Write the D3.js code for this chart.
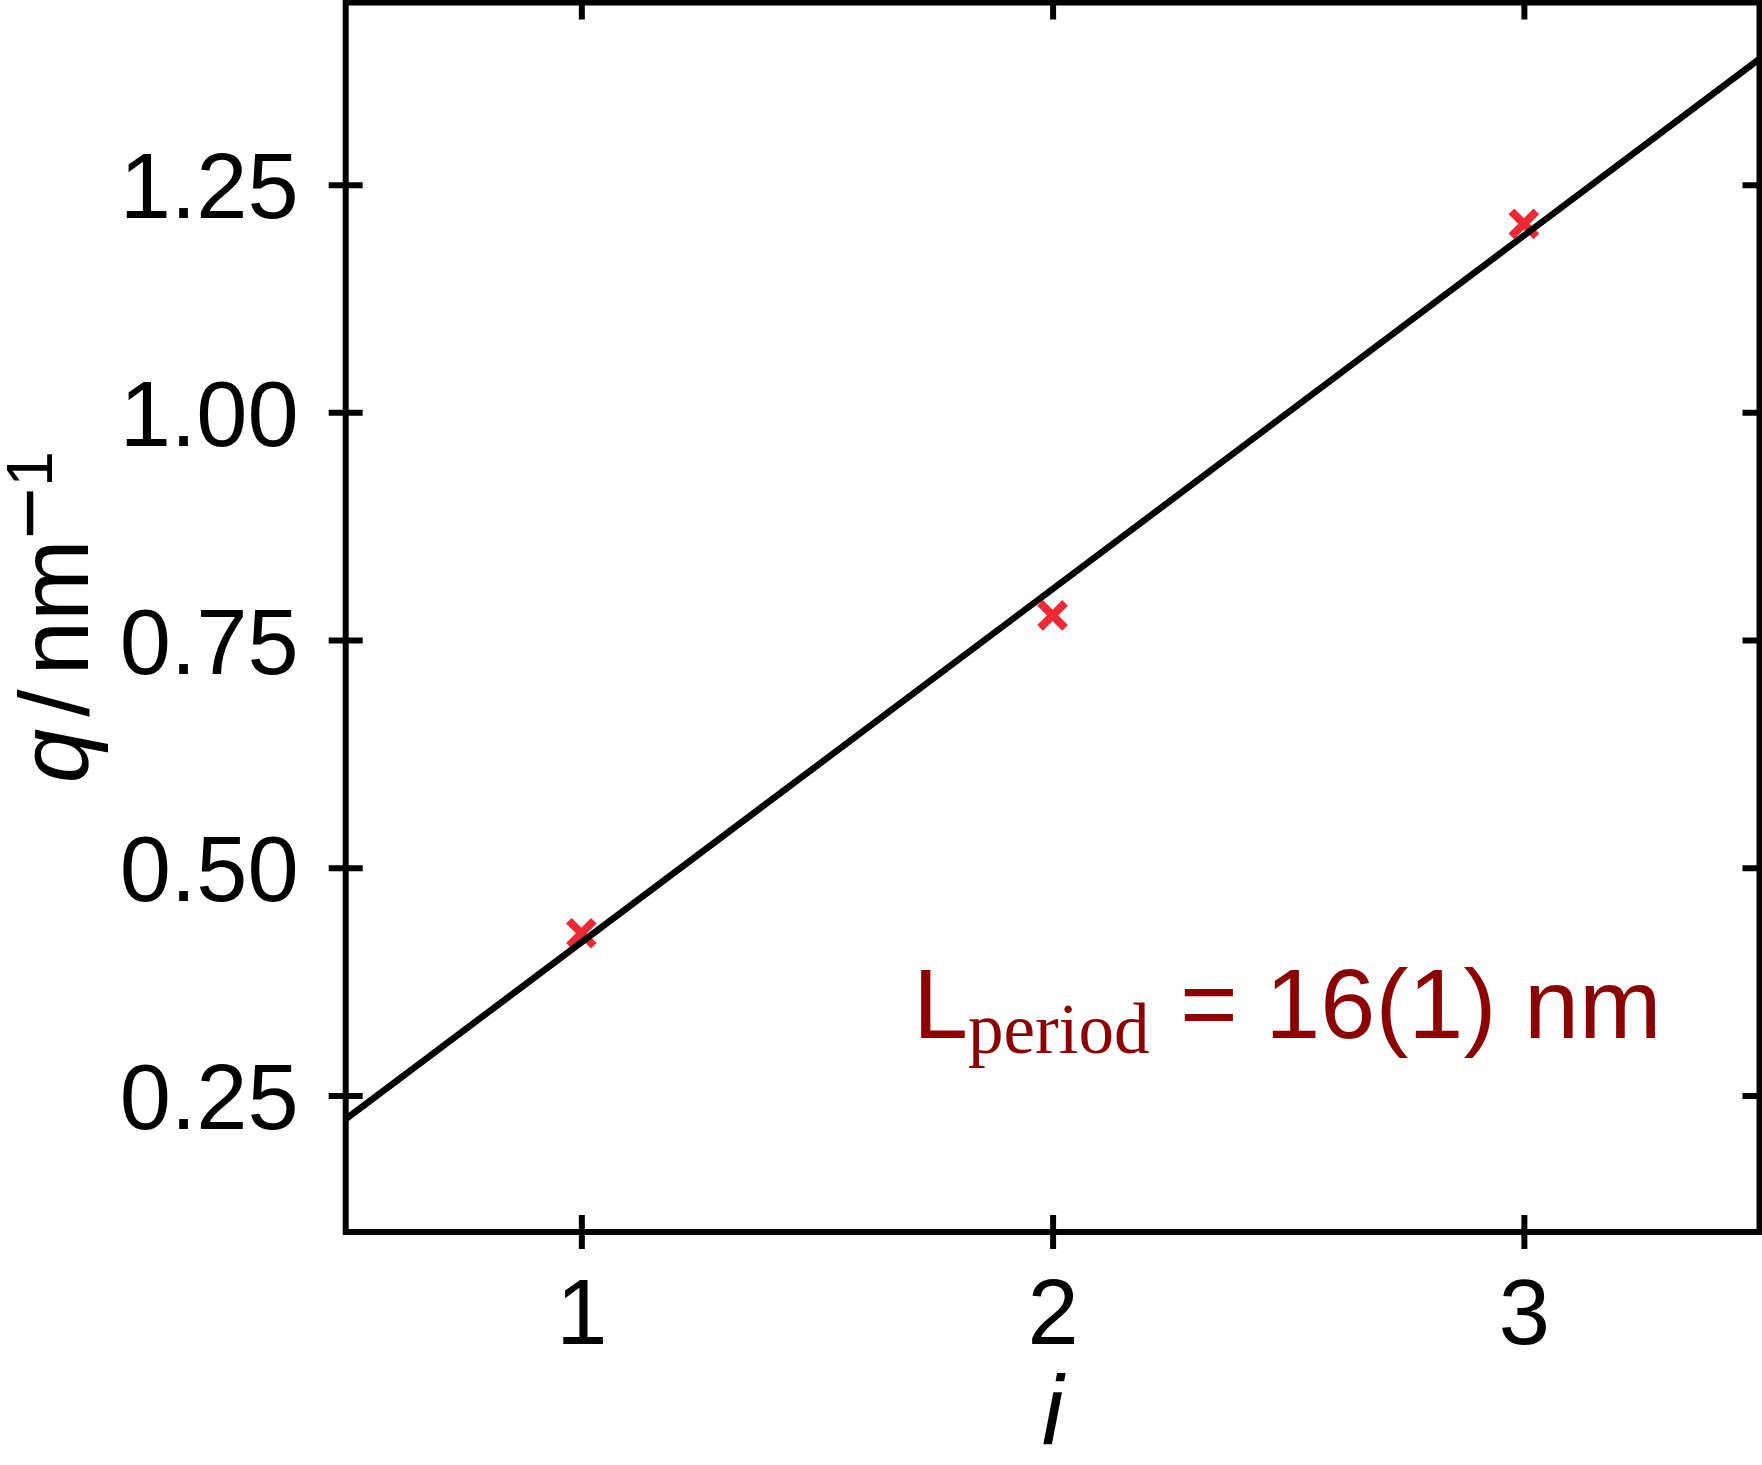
<!DOCTYPE html>
<html>
<head>
<meta charset="utf-8">
<script src="https://cdn.jsdelivr.net/npm/d3@7"></script>
<style>
  html, body { margin: 0; padding: 0; background: #fff; }
  svg { display: block; }
  text { white-space: pre; }
</style>
</head>
<body>
<div id="chart"></div>
<script>
// ---- data ----
const orderI = [1, 2, 3];
const qValues = [0.428, 0.777, 1.207];
const fitI = [0.5, 3.5];
const fitQ = [0.224, 1.388];
const xTicks = [1, 2, 3];
const yTicks = [0.25, 0.50, 0.75, 1.00, 1.25];
const yTickLabels = ["0.25", "0.50", "0.75", "1.00", "1.25"];
const xDomain = [0.5, 3.5];
const yDomain = [0.10, 1.45];

// ---- layout ----
const W = 1762, H = 1465;
const L = 345.7, R = 1759.5, T = 2.5, B = 1232;
const tickLen = 17;
const sans = "'Liberation Sans', Arial, Helvetica, sans-serif";
const serif = "'Liberation Serif', 'Times New Roman', serif";

const svg = d3.select("#chart").append("svg")
  .attr("width", W).attr("height", H)
  .attr("viewBox", `0 0 ${W} ${H}`);
svg.append("rect").attr("width", W).attr("height", H).attr("fill", "#fff");

const x = d3.scaleLinear().domain(xDomain).range([L, R]);
const y = d3.scaleLinear().domain(yDomain).range([B, T]);

svg.append("defs").append("clipPath").attr("id", "plotclip")
  .append("rect").attr("x", L).attr("y", T).attr("width", R - L).attr("height", B - T);

// markers (x shapes)
const mk = 12.5;
const markers = svg.append("g");
orderI.forEach((d, i) => {
  const cx = x(d), cy = y(qValues[i]);
  markers.append("path")
    .attr("d", `M${cx - mk},${cy - mk}L${cx + mk},${cy + mk}M${cx - mk},${cy + mk}L${cx + mk},${cy - mk}`)
    .attr("stroke", "#ec2a35").attr("stroke-width", 8).attr("fill", "none");
});

// fit line
const line = d3.line().x((d, i) => x(fitI[i])).y((d, i) => y(fitQ[i]));
svg.append("path")
  .datum(fitI)
  .attr("clip-path", "url(#plotclip)")
  .attr("d", line)
  .attr("stroke", "#000").attr("stroke-width", 6.5).attr("fill", "none");

// axes
function styleAxis(g) {
  g.select(".domain").remove();
  g.selectAll(".tick line").attr("stroke", "#000").attr("stroke-width", 6);
  g.selectAll(".tick text").attr("fill", "#000")
    .attr("font-family", sans).attr("font-size", 92);
}

const yAxis = d3.axisLeft(y).tickValues(yTicks)
  .tickFormat((d, i) => yTickLabels[i]).tickSize(tickLen).tickPadding(30);
const gy = svg.append("g").attr("transform", `translate(${L},0)`).call(yAxis);
styleAxis(gy);
gy.selectAll(".tick line").attr("x1", tickLen);
gy.selectAll(".tick text").attr("dy", "0.36em");

const yAxisR = d3.axisRight(y).tickValues(yTicks).tickFormat("").tickSize(tickLen);
const gyr = svg.append("g").attr("transform", `translate(${R},0)`).call(yAxisR);
styleAxis(gyr);
gyr.selectAll(".tick line").attr("x1", -tickLen);

const xAxis = d3.axisBottom(x).tickValues(xTicks).tickFormat(d3.format("d"))
  .tickSize(tickLen).tickPadding(30);
const gx = svg.append("g").attr("transform", `translate(0,${B})`).call(xAxis);
styleAxis(gx);
gx.selectAll(".tick line").attr("y1", -tickLen);

const xAxisT = d3.axisTop(x).tickValues(xTicks).tickFormat("").tickSize(tickLen);
const gxt = svg.append("g").attr("transform", `translate(0,${T})`).call(xAxisT);
styleAxis(gxt);
gxt.selectAll(".tick line").attr("y1", tickLen);

// frame
svg.append("rect")
  .attr("x", L).attr("y", T).attr("width", R - L).attr("height", B - T)
  .attr("fill", "none").attr("stroke", "#000").attr("stroke-width", 6);

// x label
svg.append("text")
  .attr("x", (L + R) / 2).attr("y", 1444)
  .attr("text-anchor", "middle")
  .attr("font-family", sans).attr("font-size", 98).attr("font-style", "italic")
  .text("i");

// y label
const yl = svg.append("text")
  .attr("transform", `translate(88,${(T + B) / 2}) rotate(-90)`)
  .attr("text-anchor", "middle")
  .attr("font-family", sans).attr("font-size", 98);
yl.append("tspan").attr("font-style", "italic").text("q");
yl.append("tspan").attr("dx", 12).text("/");
yl.append("tspan").attr("dx", 14).text("nm");
yl.append("tspan").attr("font-size", 90).attr("dy", -28).text("\u2212");
yl.append("tspan").attr("font-size", 64).attr("dy", -8).text("1");

// annotation
const ann = svg.append("text")
  .attr("x", 913).attr("y", 1038)
  .attr("fill", "#8b0000")
  .attr("font-family", sans).attr("font-size", 99);
ann.append("tspan").text("L");
ann.append("tspan").attr("font-family", serif).attr("font-size", 71).attr("dy", 15).text("period");
ann.append("tspan").attr("dy", -15).attr("dx", 3).text(" = 16(1) nm");
</script>
</body>
</html>
